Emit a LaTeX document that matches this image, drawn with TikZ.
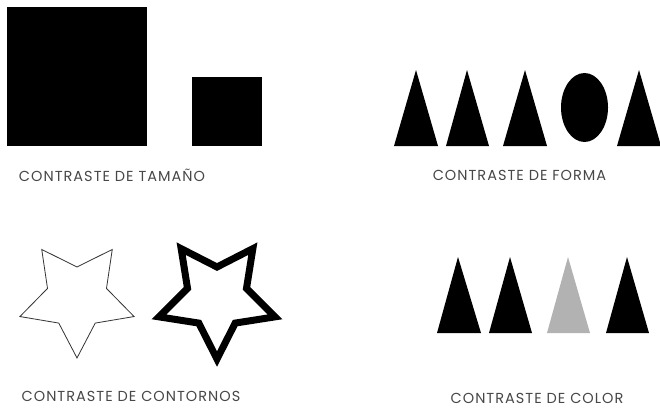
\documentclass[tikz,border=0pt]{standalone}
\usepackage{fontspec}
\setmainfont{Poppins}
\newfontfamily\lblfont[LetterSpace=7]{Poppins}
\begin{document}
\begin{tikzpicture}[x=1pt,y=-1pt,
  lbl/.style={text=black!72, font=\lblfont\fontsize{14.5}{14.5}\selectfont, inner sep=0pt, anchor=center},
  blk/.style={fill=black}]
\useasboundingbox (0,0) rectangle (660,409);
\clip (0,0) rectangle (660,409);
% size contrast
\fill[blk] (7,7) rectangle (147,146);
\fill[blk] (192,77) rectangle (262,146);
\node[lbl] (tam) at (112,175) {CONTRASTE DE TAMAÑO};
% shape contrast
\fill[blk] (394,146) -- (416,70) -- (438,146) -- cycle;
\fill[blk] (446,146) -- (467,70) -- (489,146) -- cycle;
\fill[blk] (503,146) -- (525,70) -- (547,146) -- cycle;
\fill[blk] (584.5,107.5) ellipse [x radius=23.5, y radius=34.5];
\fill[blk] (617,146) -- (639,70) -- (661,146) -- cycle;
\node[lbl] (for) at (519.5,175) {CONTRASTE DE FORMA};
% outline contrast
\draw[black!80, line width=0.8pt, shift={(77,298)}]
  (90:60) -- (126:31) -- (162:60) -- (198:31) -- (234:60) -- (270:31) -- (306:60) -- (342:31) -- (18:60) -- (54:31) -- cycle;
\draw[black, line width=7pt, miter limit=10, shift={(217,298)}]
  (90:61) -- (126:31) -- (162:61) -- (198:31) -- (234:61) -- (270:31) -- (306:61) -- (342:31) -- (18:61) -- (54:31) -- cycle;
\node[lbl] (con) at (131,396) {CONTRASTE DE CONTORNOS};
% colour contrast
\fill[blk] (437,333) -- (458,257) -- (481,333) -- cycle;
\fill[blk] (489,333) -- (510,257) -- (532,333) -- cycle;
\fill[black!30] (547,333) -- (568,257) -- (590,333) -- cycle;
\fill[blk] (606,333) -- (627,257) -- (649,333) -- cycle;
\node[lbl] (col) at (537,398) {CONTRASTE DE COLOR};
\end{tikzpicture}
\end{document}
